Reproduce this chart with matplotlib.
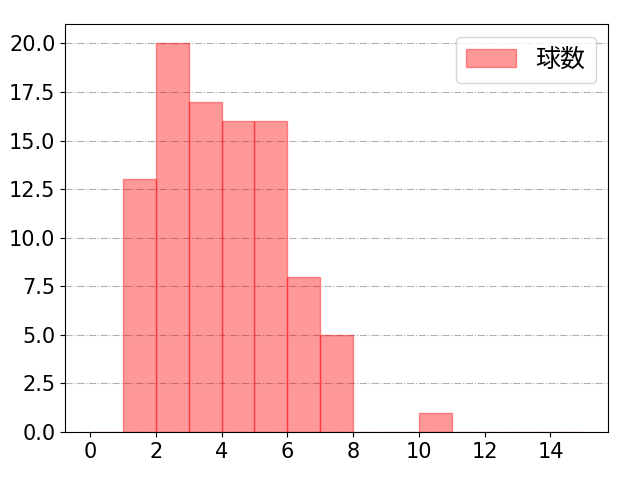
import matplotlib
matplotlib.use('Agg')
import matplotlib.pyplot as plt
import numpy as np

plt.rcParams['font.family'] = ['DejaVu Sans', 'Noto Sans CJK JP']
plt.rcParams['font.size'] = 15

# pitch count per bin (bins of width 1 from 0 to 15)
bin_edges = list(range(0, 16))
bin_counts = [0, 13, 20, 17, 16, 16, 8, 5, 0, 0, 1, 0, 0, 0, 0]
label = '球数'

fig, ax = plt.subplots(figsize=(6.4, 4.8), dpi=100)
ax.hist(bin_edges[:-1], bins=bin_edges, weights=bin_counts,
        color='red', alpha=0.4, edgecolor='red', label=label)
ax.yaxis.grid(True, linestyle='-.', color='#b0b0b0')
ax.set_axisbelow(True)
ax.set_xticks(range(0, 16, 2))
ax.legend(loc='upper right', prop={'family': ['Noto Sans CJK JP'], 'size': 18})

fig.subplots_adjust(left=0.102, right=0.95, top=0.95, bottom=0.1)
fig.savefig('out.png')
